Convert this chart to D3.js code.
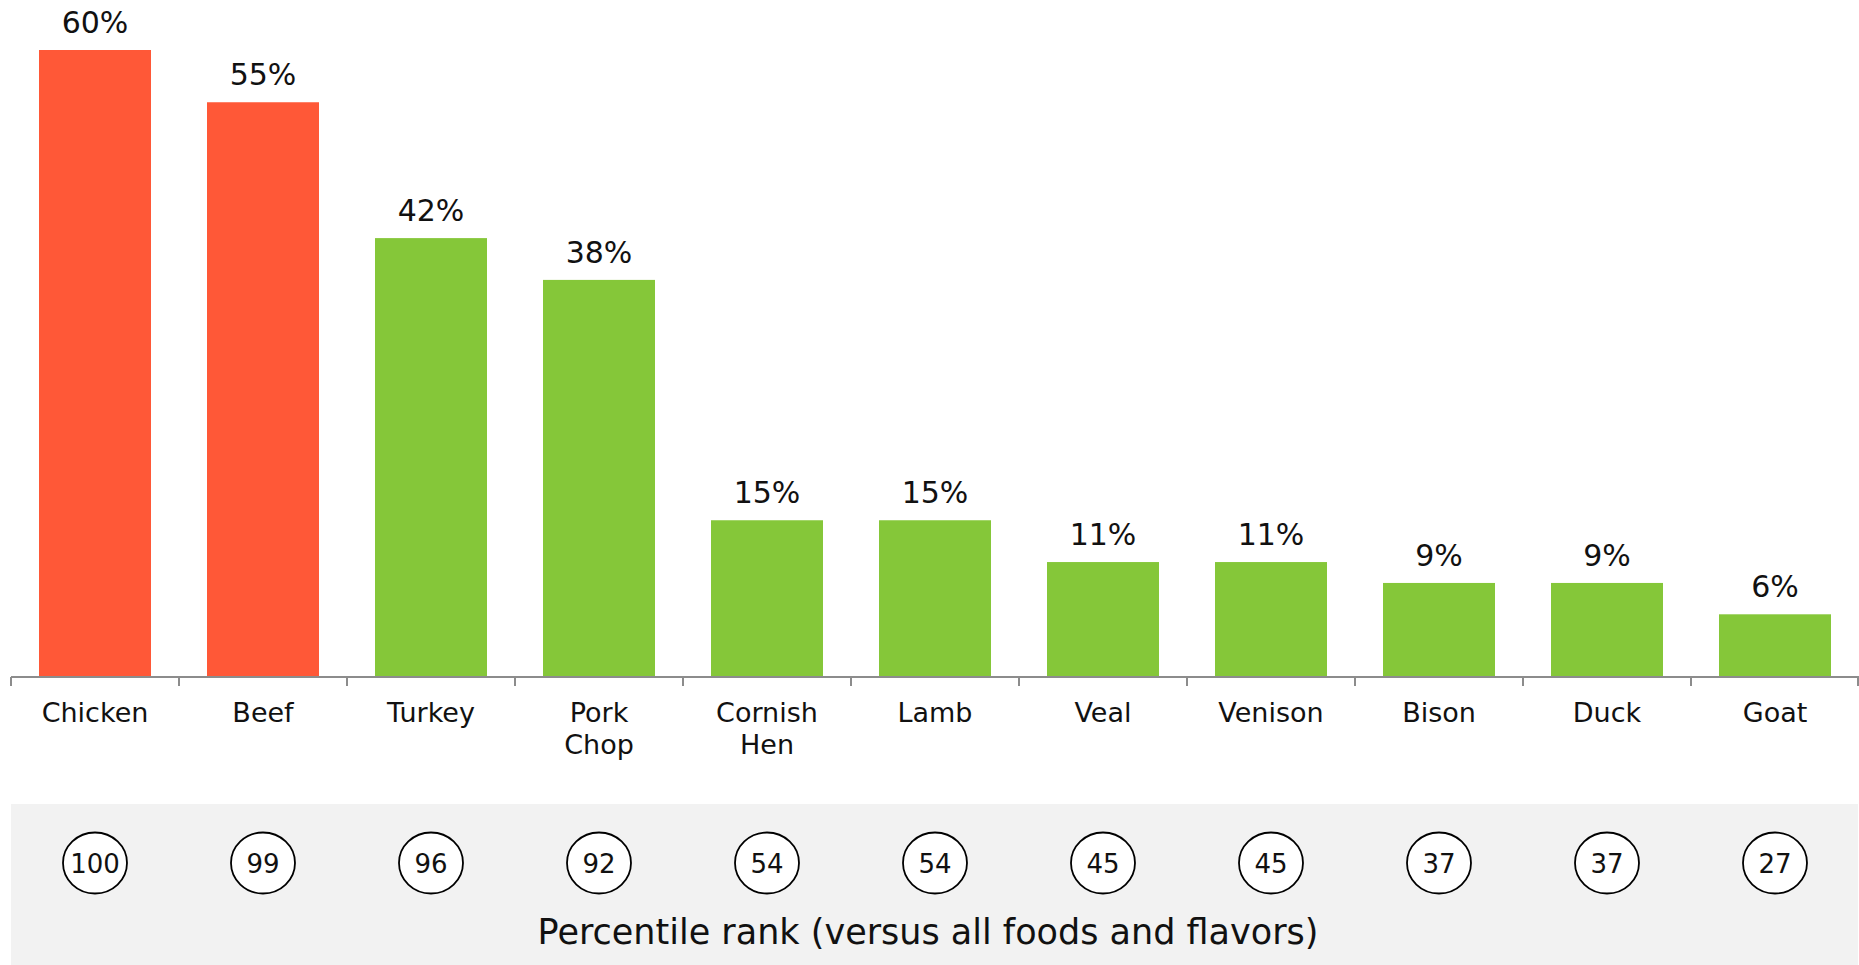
<!DOCTYPE html>
<html>
<head>
<meta charset="utf-8">
<script src="https://cdn.jsdelivr.net/npm/d3@7"></script>
<style>
  html, body { margin: 0; padding: 0; background: #ffffff; }
  svg { display: block; }
  text { font-family: "DejaVu Sans", sans-serif; fill: #111; }
</style>
</head>
<body>
<svg id="chart" width="1859" height="965"></svg>
<script>
// Meats: share of respondents, and percentile rank versus all foods and flavors
const categories = ["Chicken", "Beef", "Turkey", "Pork Chop", "Cornish Hen", "Lamb", "Veal", "Venison", "Bison", "Duck", "Goat"];
const shares = [60, 55, 42, 38, 15, 15, 11, 11, 9, 9, 6];
const percentileRanks = [100, 99, 96, 92, 54, 54, 45, 45, 37, 37, 27];
const highlighted = ["Chicken", "Beef"];
const rankCaption = "Percentile rank (versus all foods and flavors)";

(function () {
  const H = 965;
  const plotLeft = 11, plotRight = 1859, baseY = 677, plotTop = 50;

  const svg = d3.select("#chart");

  const x = d3.scaleBand()
    .domain(categories)
    .range([plotLeft, plotRight])
    .paddingInner(1 / 3)
    .paddingOuter(1 / 6);

  const y = d3.scaleLinear()
    .domain([0, 60])
    .range([baseY, plotTop]);

  const data = categories.map((c, i) => ({ cat: c, share: shares[i], rank: percentileRanks[i] }));

  // bars
  svg.append("g").selectAll("rect")
    .data(data)
    .join("rect")
    .attr("x", d => x(d.cat))
    .attr("y", d => y(d.share))
    .attr("width", x.bandwidth())
    .attr("height", d => y(0) - y(d.share))
    .attr("fill", d => highlighted.includes(d.cat) ? "#FF5837" : "#85C739");

  // value labels above bars
  svg.append("g").selectAll("text")
    .data(data)
    .join("text")
    .attr("x", d => x(d.cat) + x.bandwidth() / 2)
    .attr("y", d => y(d.share) - 17)
    .attr("text-anchor", "middle")
    .style("font-size", "30px")
    .text(d => d.share + "%");

  // category axis: baseline with ticks at band boundaries
  const step = x.step();
  const edges = categories.map(c => x(c) - step * x.paddingInner() / 2).concat([plotRight - 1]);
  const axis = svg.append("g");
  axis.append("line")
    .attr("x1", plotLeft).attr("x2", plotRight)
    .attr("y1", baseY).attr("y2", baseY)
    .attr("stroke", "#8c8c8c").attr("stroke-width", 2);
  axis.selectAll("line.tick")
    .data(edges)
    .join("line")
    .attr("class", "tick")
    .attr("x1", d => d).attr("x2", d => d)
    .attr("y1", baseY).attr("y2", baseY + 9)
    .attr("stroke", "#8c8c8c").attr("stroke-width", 2);

  const catLabels = axis.selectAll("text")
    .data(categories)
    .join("text")
    .attr("x", d => x(d) + x.bandwidth() / 2)
    .attr("y", 722)
    .attr("text-anchor", "middle")
    .style("font-size", "27px");
  catLabels.each(function (d) {
    const words = d.split(" ");
    d3.select(this).selectAll("tspan")
      .data(words)
      .join("tspan")
      .attr("x", x(d) + x.bandwidth() / 2)
      .attr("dy", (w, i) => i === 0 ? 0 : 32)
      .text(w => w);
  });

  // percentile rank panel
  const panel = svg.append("g");
  panel.append("rect")
    .attr("x", plotLeft).attr("y", 804)
    .attr("width", plotRight - plotLeft - 1).attr("height", H - 804)
    .attr("fill", "#f2f2f2");

  const marks = panel.selectAll("g.rank")
    .data(data)
    .join("g")
    .attr("class", "rank")
    .attr("transform", d => `translate(${x(d.cat) + x.bandwidth() / 2},863)`);
  marks.append("ellipse")
    .attr("rx", 32).attr("ry", 30.5)
    .attr("fill", "#ffffff")
    .attr("stroke", "#000").attr("stroke-width", 1.8);
  marks.append("text")
    .attr("text-anchor", "middle")
    .attr("y", 10)
    .style("font-size", "26px")
    .text(d => d.rank);

  panel.append("text")
    .attr("x", (plotLeft + plotRight) / 2 - 7)
    .attr("y", 944)
    .attr("text-anchor", "middle")
    .style("font-size", "35px")
    .text(rankCaption);
})();
</script>
</body>
</html>
